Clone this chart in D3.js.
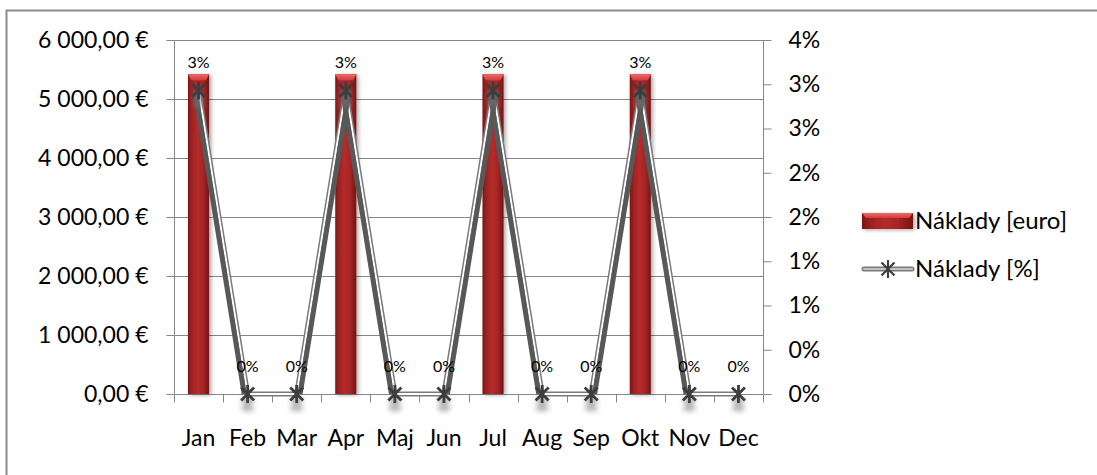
<!DOCTYPE html>
<html>
<head>
<meta charset="utf-8">
<script src="https://cdn.jsdelivr.net/npm/d3@7"></script>
<style>
  html, body { margin: 0; padding: 0; background: #fff; }
  svg { display: block; font-family: Lato, "Open Sans", sans-serif; }
</style>
</head>
<body>
<svg id="chart" width="1097" height="475"></svg>
<script>
// Monthly costs: absolute (euro) and share of total (%)
const months = ["Jan", "Feb", "Mar", "Apr", "Maj", "Jun", "Jul", "Aug", "Sep", "Okt", "Nov", "Dec"];
const costEuro = [5420, 0, 0, 5420, 0, 0, 5420, 0, 0, 5420, 0, 0];
const costPct = [3.43, 0, 0, 3.43, 0, 0, 3.43, 0, 0, 3.43, 0, 0];
const euroTicks = [0, 1000, 2000, 3000, 4000, 5000, 6000];
const pctTicks = [0, 0.5, 1, 1.5, 2, 2.5, 3, 3.5, 4];
const pctTickLabels = ["0%", "0%", "1%", "1%", "2%", "2%", "3%", "3%", "4%"];
const seriesNames = ["Náklady [euro]", "Náklady [%]"];

const svg = d3.select("#chart");
const plot = { left: 174, right: 763, top: 40, bottom: 394 };
const axisColor = "#868686";
const axisFont = 23;
const legendFont = 24;
const labelFont = 16;

// outer chart frame
svg.append("rect")
  .attr("x", 6.5).attr("y", 10.5).attr("width", 1200).attr("height", 600)
  .attr("fill", "none").attr("stroke", "#8c8c8c").attr("stroke-width", 2);

const x = d3.scaleBand().domain(months).range([plot.left, plot.right]).paddingInner(0).paddingOuter(0);
const yEuro = d3.scaleLinear().domain([0, 6000]).range([plot.bottom, plot.top]);
const yPct = d3.scaleLinear().domain([0, 4]).range([plot.bottom, plot.top]);

const defs = svg.append("defs");
const barGrad = defs.append("linearGradient").attr("id", "barGrad")
  .attr("x1", "0%").attr("x2", "100%").attr("y1", "0%").attr("y2", "0%");
[["0%", "#7c1616"], ["18%", "#9e2222"], ["45%", "#b52b2b"], ["70%", "#a82626"], ["100%", "#761414"]]
  .forEach(([o, c]) => barGrad.append("stop").attr("offset", o).attr("stop-color", c));
const capGrad = defs.append("linearGradient").attr("id", "capGrad")
  .attr("x1", "0%").attr("x2", "0%").attr("y1", "0%").attr("y2", "100%");
[["0%", "#f06a6a"], ["100%", "#cf3b3b"]]
  .forEach(([o, c]) => capGrad.append("stop").attr("offset", o).attr("stop-color", c));
const barShadow = defs.append("filter").attr("id", "barShadow")
  .attr("x", "-50%").attr("y", "-10%").attr("width", "200%").attr("height", "130%");
barShadow.append("feGaussianBlur").attr("in", "SourceAlpha").attr("stdDeviation", 2);
barShadow.append("feOffset").attr("dx", 2).attr("dy", 1).attr("result", "off");
barShadow.append("feComponentTransfer").append("feFuncA").attr("type", "linear").attr("slope", 0.35);
const bsm = barShadow.append("feMerge");
bsm.append("feMergeNode");
bsm.append("feMergeNode").attr("in", "SourceGraphic");
const blur = defs.append("filter").attr("id", "markShadow")
  .attr("x", "-100%").attr("y", "-100%").attr("width", "300%").attr("height", "300%");
blur.append("feGaussianBlur").attr("stdDeviation", 2.6);

// gridlines
svg.append("g").selectAll("line").data(euroTicks.filter(t => t > 0)).join("line")
  .attr("x1", plot.left).attr("x2", plot.right)
  .attr("y1", d => Math.round(yEuro(d)) + 0.5).attr("y2", d => Math.round(yEuro(d)) + 0.5)
  .attr("stroke", axisColor).attr("stroke-width", 1);

// left axis
const leftAxis = svg.append("g").attr("transform", `translate(${plot.left + 0.5},0)`)
  .call(d3.axisLeft(yEuro).tickValues(euroTicks).tickSize(8).tickPadding(18)
    .tickFormat(d => d3.format(",.2f")(d).replace(/,/g, " ").replace(".", ",") + " €"));
// right axis
const rightAxis = svg.append("g").attr("transform", `translate(${plot.right + 0.5},0)`)
  .call(d3.axisRight(yPct).tickValues(pctTicks).tickSize(8).tickPadding(17)
    .tickFormat((d, i) => pctTickLabels[i]));
// bottom axis (ticks at category boundaries)
const boundaries = d3.range(months.length + 1).map(i => plot.left + i * x.bandwidth());
const bottomAxis = svg.append("g").attr("transform", `translate(0,${plot.bottom + 0.5})`);
bottomAxis.append("line").attr("x1", plot.left).attr("x2", plot.right).attr("stroke", axisColor);
bottomAxis.selectAll("line.tick").data(boundaries).join("line").attr("class", "tick")
  .attr("x1", d => Math.round(d) + 0.5).attr("x2", d => Math.round(d) + 0.5)
  .attr("y1", 0).attr("y2", 8).attr("stroke", axisColor);
bottomAxis.selectAll("text").data(months).join("text")
  .attr("x", d => x(d) + x.bandwidth() / 2).attr("y", 51)
  .attr("text-anchor", "middle").attr("font-size", axisFont).attr("fill", "#000").text(d => d);

[leftAxis, rightAxis].forEach(g => {
  g.select(".domain").attr("stroke", axisColor);
  g.selectAll(".tick line").attr("stroke", axisColor);
  g.selectAll(".tick text").attr("font-size", axisFont).attr("fill", "#000")
    .attr("font-family", "Lato, sans-serif");
});
leftAxis.select(".domain").attr("d", `M0,${plot.bottom}V${plot.top}`);
rightAxis.select(".domain").attr("d", `M0,${plot.bottom}V${plot.top}`);

// bars
const barW = x.bandwidth() * 0.43;
const bars = svg.append("g").selectAll("g").data(costEuro.map((v, i) => ({ m: months[i], v })).filter(d => d.v > 0))
  .join("g").attr("filter", "url(#barShadow)");
bars.append("rect")
  .attr("x", d => x(d.m) + (x.bandwidth() - barW) / 2).attr("width", barW)
  .attr("y", d => yEuro(d.v)).attr("height", d => yEuro(0) - yEuro(d.v))
  .attr("fill", "url(#barGrad)");
bars.append("path")
  .attr("d", d => {
    const x0 = x(d.m) + (x.bandwidth() - barW) / 2, x1 = x0 + barW, t = yEuro(d.v);
    return `M${x0},${t}H${x1}L${x1 - 3},${t + 6}H${x0 + 3}Z`;
  })
  .attr("fill", "url(#capGrad)");

// line series
const pts = costPct.map((v, i) => ({ x: x(months[i]) + x.bandwidth() / 2, y: yPct(v), v }));
const lineG = svg.append("g");
const segs = d3.pairs(pts);
const sloped = segs.filter(([a, b]) => a.v !== b.v);
const lineGen = d3.line().x(d => d.x).y(d => d.y);
lineG.append("path").attr("d", lineGen(pts)).attr("fill", "none")
  .attr("stroke", "#7a7a7a").attr("stroke-width", 5).attr("stroke-linejoin", "miter");
lineG.append("path").attr("d", lineGen(pts)).attr("fill", "none")
  .attr("stroke", "#ffffff").attr("stroke-width", 2).attr("stroke-linejoin", "miter");
// dark bevel on the lower side of sloped segments
const side = d => (d[1].v < d[0].v ? -3.4 : 3.4);
lineG.selectAll("line.edge").data(sloped).join("line").attr("class", "edge")
  .attr("x1", d => d[0].x + side(d)).attr("y1", d => d[0].y)
  .attr("x2", d => d[1].x + side(d)).attr("y2", d => d[1].y)
  .attr("stroke", "#585858").attr("stroke-width", 5);

// asterisk marker
function star(g, r, w, color) {
  const d = r * 0.72;
  g.append("path")
    .attr("d", `M${-d},${-d}L${d},${d}M${-d},${d}L${d},${-d}M0,${-r}V${r}`)
    .attr("stroke", color).attr("stroke-width", w).attr("fill", "none");
}
const shadows = svg.append("g").selectAll("g").data(pts).join("g")
  .attr("transform", d => `translate(${d.x},${d.y + 10})`).attr("filter", "url(#markShadow)").attr("opacity", 0.55);
shadows.each(function () { star(d3.select(this), 8, 4, "#777"); });
const markers = svg.append("g").selectAll("g").data(pts).join("g")
  .attr("transform", d => `translate(${d.x},${d.y})`);
markers.each(function () { star(d3.select(this), 9, 2.8, "#3d3d3d"); });

// data labels
svg.append("g").selectAll("text").data(pts).join("text")
  .attr("x", d => d.x).attr("y", d => d.y - 22)
  .attr("text-anchor", "middle").attr("font-size", labelFont).attr("fill", "#000")
  .text(d => d3.format(".0%")(d.v / 100));

// legend
const leg = svg.append("g");
leg.append("rect").attr("x", 862).attr("y", 213).attr("width", 51).attr("height", 16)
  .attr("fill", "url(#barGrad)").attr("filter", "url(#barShadow)");
leg.append("path").attr("d", "M862,213H913L909,218H866Z").attr("fill", "url(#capGrad)");
leg.append("text").attr("x", 915).attr("y", 221).attr("dy", "0.35em")
  .attr("font-size", legendFont).text(seriesNames[0]);
leg.append("line").attr("x1", 864).attr("x2", 912).attr("y1", 269).attr("y2", 269)
  .attr("stroke", "#7a7a7a").attr("stroke-width", 5).attr("stroke-linecap", "round");
leg.append("line").attr("x1", 864).attr("x2", 912).attr("y1", 269).attr("y2", 269)
  .attr("stroke", "#c4c4c4").attr("stroke-width", 2).attr("stroke-linecap", "round");
star(leg.append("g").attr("transform", "translate(888,269)"), 9, 2.2, "#3d3d3d");
leg.append("text").attr("x", 915).attr("y", 269).attr("dy", "0.35em")
  .attr("font-size", legendFont).text(seriesNames[1]);
</script>
</body>
</html>
